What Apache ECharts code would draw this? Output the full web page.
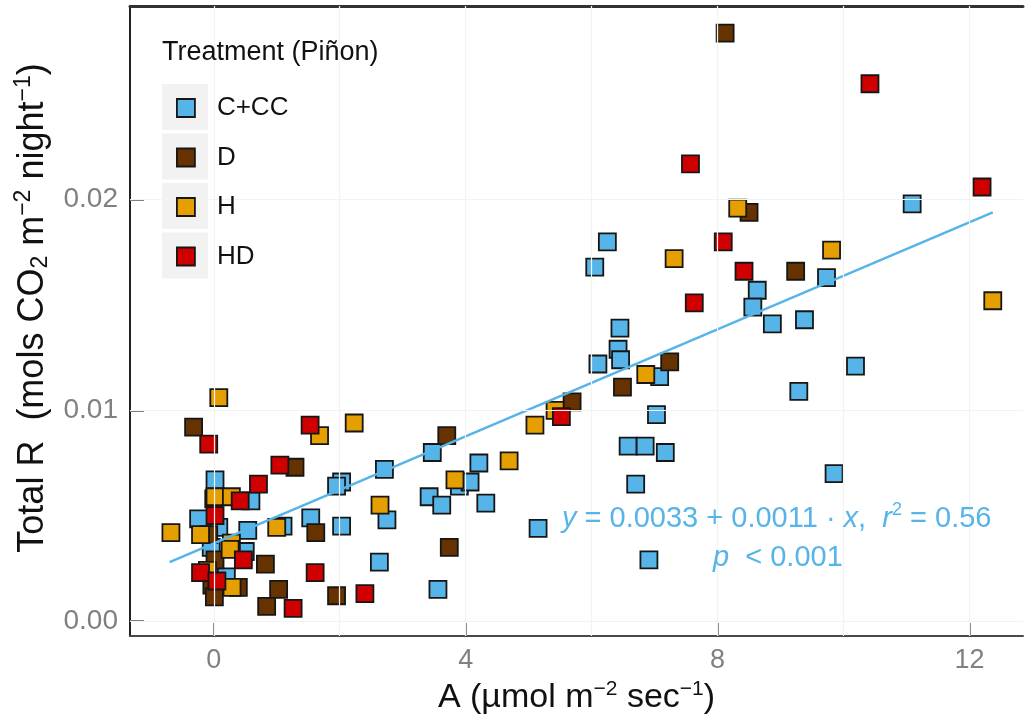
<!DOCTYPE html>
<html>
<head>
<meta charset="utf-8">
<script src="https://cdn.jsdelivr.net/npm/echarts@6/dist/echarts.min.js"></script>
<style>html,body{margin:0;padding:0;background:#fff;}#chart{width:1025px;height:723px;}</style>
</head>
<body>
<div id="chart"></div>
<script>
// ---- data ----
const groupNames = ['C+CC', 'D', 'H', 'HD'];
const ccData = [[11.09,0.0198],[9.73,0.0163],[8.63,0.0157],[8.56,0.0149],[8.87,0.0141],[9.38,0.0143],[6.25,0.0180],[6.05,0.0168],[6.45,0.0139],[6.42,0.0129],[6.46,0.0124],[6.10,0.0122],[7.08,0.0116],[7.03,0.0098],[10.19,0.0121],[9.29,0.0109],[9.85,0.0070],[6.58,0.0083],[6.85,0.0083],[7.17,0.0080],[6.70,0.0065],[6.91,0.0029],[5.15,0.0044],[3.47,0.0080],[4.21,0.0075],[3.90,0.0064],[4.07,0.0066],[3.42,0.0059],[3.62,0.0055],[4.32,0.0056],[3.56,0.0015],[2.03,0.0066],[1.95,0.0064],[2.71,0.0072],[2.75,0.0048],[1.54,0.0049],[2.03,0.0045],[2.63,0.0028],[1.10,0.0045],[0.59,0.0057],[0.02,0.0067],[-0.24,0.00485],[0.08,0.00445],[-0.04,0.0035],[0.54,0.0043],[0.50,0.0033],[0.20,0.0021]];
const dData = [[8.12,0.0279],[8.50,0.0194],[9.24,0.0166],[6.49,0.0111],[7.24,0.0123],[5.69,0.0104],[3.70,0.0088],[3.74,0.0035],[1.29,0.0073],[1.62,0.0042],[1.95,0.0012],[-0.32,0.0092],[0.00,0.0058],[-0.08,0.0041],[0.02,0.0029],[0.82,0.0027],[-0.03,0.0017],[0.01,0.00115],[1.03,0.0015],[0.84,0.0007],[0.39,0.0016]];
const hData = [[8.32,0.0196],[7.31,0.0172],[9.81,0.0176],[12.37,0.0152],[6.86,0.0117],[5.42,0.0100],[5.10,0.0093],[4.69,0.0076],[3.83,0.0067],[2.23,0.0094],[1.68,0.0088],[2.64,0.0055],[1.00,0.00445],[0.08,0.0106],[0.02,0.0059],[0.28,0.0059],[-0.68,0.0042],[-0.21,0.0041],[0.28,0.0037],[0.26,0.0034],[-0.10,0.0024],[0.29,0.0016]];
const hdData = [[10.42,0.0255],[7.57,0.0217],[8.09,0.0180],[8.42,0.0166],[7.63,0.0151],[12.20,0.0206],[5.52,0.0097],[1.53,0.0093],[-0.08,0.0084],[1.05,0.0074],[0.71,0.0065],[0.42,0.0057],[0.02,0.0050],[0.47,0.0029],[-0.21,0.0023],[0.05,0.0019],[1.61,0.0023],[2.40,0.0013],[1.26,0.0006]];
const fitLine = [[-0.70,0.0028],[12.37,0.0194]];
const xTicks = [0, 4, 8, 12];
const yTicks = [0, 0.01, 0.02];
const xGridVals = [0, 2, 4, 6, 8, 10, 12];
const yGridVals = [0, 0.005, 0.01, 0.015, 0.02, 0.025];
const xRange = [-1.33, 12.85];
const yRange = [-0.00071, 0.02919];

// ---- styles ----
const colors = { 'C+CC': '#56B4E9', 'D': '#663300', 'H': '#E69F00', 'HD': '#D00000' };
const FONT = 'Liberation Sans, Arial, sans-serif';
const dataByName = { 'C+CC': ccData, 'D': dData, 'H': hData, 'HD': hdData };
const drawOrder = ['C+CC', 'D', 'H', 'HD'];

const chart = echarts.init(document.getElementById('chart'), null, { renderer: 'canvas' });

const scatterSeries = drawOrder.map((n, i) => ({
  name: n,
  type: 'scatter',
  data: dataByName[n],
  symbol: 'rect',
  symbolSize: 17,
  z: 2 + i * 0.01,
  itemStyle: { color: colors[n], borderColor: '#161616', borderWidth: 1.8, opacity: 1 },
  emphasis: { disabled: true }
}));

const legendBoxes = groupNames.map((n, i) => ({
  type: 'rect',
  left: 162, top: 84 + i * 49.5,
  shape: { width: 46, height: 46 },
  style: { fill: '#f2f2f2' },
  z: 1
}));

const option = {
  backgroundColor: '#ffffff',
  animation: false,
  textStyle: { fontFamily: FONT },
  grid: { left: 130, right: 2, top: 6, bottom: 87, containLabel: false },
  xAxis: [{
    type: 'value', min: xRange[0], max: xRange[1],
    axisLine: { show: true, onZero: false, lineStyle: { color: '#4a4a4a', width: 2 } },
    axisTick: { show: true, inside: true, length: 13, customValues: xTicks, lineStyle: { color: '#808080', width: 2 } },
    axisLabel: { customValues: xTicks, color: '#808080', fontSize: 27, fontFamily: FONT, margin: 11,
      formatter: v => String(v) },
    splitLine: { show: false },
    name: 'A (µmol m{sup|−2} sec{sup|−1})',
    nameLocation: 'middle', nameGap: 42,
    nameTextStyle: { color: '#111', fontSize: 34, fontFamily: FONT, lineHeight: 38,
      rich: { sup: { fontSize: 21, verticalAlign: 'top', lineHeight: 22, color: '#111', fontFamily: FONT } } }
  }, {
    type: 'value', position: 'top', min: xRange[0], max: xRange[1],
    axisLine: { show: true, onZero: false, lineStyle: { color: '#333', width: 3 } },
    axisTick: { show: false }, axisLabel: { show: false }, splitLine: { show: false }
  }],
  yAxis: [{
    type: 'value', min: yRange[0], max: yRange[1],
    axisLine: { show: true, onZero: false, lineStyle: { color: '#222', width: 2 } },
    axisTick: { show: true, inside: true, length: 14, customValues: yTicks, lineStyle: { color: '#808080', width: 2 } },
    axisLabel: { customValues: yTicks, color: '#808080', fontSize: 28, fontFamily: FONT, margin: 12,
      formatter: v => v.toFixed(2) },
    splitLine: { show: false },
    name: 'Total R  (mols CO{sub|2} m{sup|−2} night{sup|−1})',
    nameLocation: 'middle', nameGap: 68, nameRotate: 90,
    nameTextStyle: { color: '#111', fontSize: 36, fontFamily: FONT, lineHeight: 40, padding: [0, 0, 0, 26],
      rich: {
        sup: { fontSize: 23, verticalAlign: 'top', lineHeight: 22, color: '#111', fontFamily: FONT },
        sub: { fontSize: 23, verticalAlign: 'bottom', lineHeight: 22, color: '#111', fontFamily: FONT }
      } }
  }],
  legend: {
    data: groupNames,
    orient: 'vertical',
    left: 171, top: 90,
    itemWidth: 18, itemHeight: 18,
    itemGap: 23.5,
    icon: 'rect',
    selectedMode: false,
    textStyle: { color: '#111', fontSize: 26, fontFamily: FONT, lineHeight: 18, padding: [0, 0, 0, 17] },
    itemStyle: { borderColor: '#161616', borderWidth: 1.8 },
    z: 50
  },
  graphic: legendBoxes.concat([
    { type: 'text', left: 162, top: 39, z: 100,
      style: { text: 'Treatment (Piñon)', fill: '#111', fontSize: 27, fontFamily: FONT } },
    { type: 'text', z: 100, left: 562, top: 501,
      style: {
        text: '{i|y} = 0.0033 + 0.0011 · {i|x},  {i|r}{s|2} = 0.56',
        fill: '#56B4E9', fontSize: 29, fontFamily: FONT, lineHeight: 36,
        rich: {
          i: { fontStyle: 'italic', fontSize: 29, fill: '#56B4E9', fontFamily: FONT, lineHeight: 36 },
          s: { fontSize: 18, verticalAlign: 'top', lineHeight: 20, fill: '#56B4E9', fontFamily: FONT }
        }
      } },
    { type: 'text', z: 100, left: 713, top: 540,
      style: {
        text: '{i|p}  < 0.001',
        fill: '#56B4E9', fontSize: 29, fontFamily: FONT, lineHeight: 36,
        rich: { i: { fontStyle: 'italic', fontSize: 29, fill: '#56B4E9', fontFamily: FONT, lineHeight: 36 } }
      } }
  ]),
  series: [
    {
      name: 'grid', type: 'scatter', data: [], z: 0, silent: true,
      markLine: {
        silent: true, symbol: 'none', label: { show: false }, animation: false,
        lineStyle: { color: '#f3f3f3', width: 1.2, type: 'solid' },
        emphasis: { disabled: true },
        data: xGridVals.map(v => ({ xAxis: v })).concat(yGridVals.map(v => ({ yAxis: v })))
      }
    },
    ...scatterSeries,
    {
      name: 'fit', type: 'line', data: fitLine, showSymbol: false, symbol: 'none', z: 4, silent: true,
      lineStyle: { color: '#56B4E9', width: 2.5 }
    }
  ]
};
chart.setOption(option);
</script>
</body>
</html>
